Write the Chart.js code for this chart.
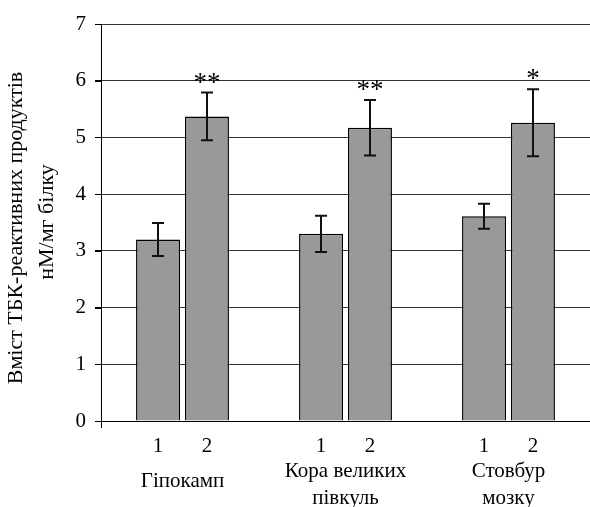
<!DOCTYPE html>
<html>
<head>
<meta charset="utf-8">
<script src="https://cdn.jsdelivr.net/npm/chart.js@4.4.1/dist/chart.umd.min.js"></script>
<style>
  html, body { margin: 0; padding: 0; background: #fff; overflow: hidden; }
</style>
</head>
<body>
<canvas id="tbkChart" width="590" height="507"></canvas>
<script>
// brain regions (group labels, one entry per line)
const regions = [['Гіпокамп'], ['Кора великих', 'півкуль'], ['Стовбур', 'мозку']];
const seriesLabels = ['1', '2'];
// mean values, nM/mg protein
const group1 = [3.20, 3.30, 3.61];
const group2 = [5.37, 5.17, 5.26];
// error bar half-lengths
const group1Err = [0.29, 0.32, 0.22];
const group2Err = [0.42, 0.49, 0.59];
// significance marks above group 2
const group2Marks = ['**', '**', '*'];
const yTitle = ['Вміст ТБК-реактивних продуктів', 'нМ/мг білку'];

const serif = '"Liberation Serif", "Times New Roman", serif';

const extras = {
    id: 'extras',
    afterDatasetsDraw(chart) {
        const ctx = chart.ctx;
        const yScale = chart.scales.y;
        const xScale = chart.scales.x;
        const area = chart.chartArea;
        const errs = [group1Err, group2Err];

        ctx.save();
        // error bars
        ctx.strokeStyle = '#111';
        ctx.lineWidth = 2;
        chart.data.datasets.forEach(function (ds, di) {
            chart.getDatasetMeta(di).data.forEach(function (bar, i) {
                const top = yScale.getPixelForValue(ds.data[i] + errs[di][i]);
                const bot = yScale.getPixelForValue(ds.data[i] - errs[di][i]);
                const x = Math.round(bar.x);
                ctx.beginPath();
                ctx.moveTo(x, top); ctx.lineTo(x, bot);
                ctx.moveTo(x - 6, top); ctx.lineTo(x + 6, top);
                ctx.moveTo(x - 6, bot); ctx.lineTo(x + 6, bot);
                ctx.stroke();
            });
        });

        // stars
        ctx.fillStyle = '#000';
        ctx.textAlign = 'center';
        ctx.textBaseline = 'alphabetic';
        ctx.font = '27px ' + serif;
        chart.getDatasetMeta(1).data.forEach(function (bar, i) {
            const top = yScale.getPixelForValue(group2[i] + group2Err[i]);
            ctx.fillText(group2Marks[i], bar.x, top - 2);
        });

        // tick stubs left of the y axis and axis stub below zero
        ctx.strokeStyle = '#000';
        ctx.lineWidth = 1;
        ctx.beginPath();
        yScale.ticks.forEach(function (t) {
            const py = Math.round(yScale.getPixelForValue(t.value)) + 0.5;
            ctx.moveTo(area.left - 6, py);
            ctx.lineTo(area.left, py);
        });
        ctx.moveTo(area.left + 0.5, area.bottom);
        ctx.lineTo(area.left + 0.5, area.bottom + 7);
        ctx.stroke();

        // series numbers under bars
        ctx.font = '21px ' + serif;
        chart.data.datasets.forEach(function (ds, di) {
            chart.getDatasetMeta(di).data.forEach(function (bar) {
                ctx.fillText(seriesLabels[di], bar.x, 452);
            });
        });

        // region names
        regions.forEach(function (lines, i) {
            const cx = xScale.getPixelForValue(i);
            if (lines.length === 1) {
                ctx.fillText(lines[0], cx, 487);
            } else {
                ctx.fillText(lines[0], cx, 477);
                ctx.fillText(lines[1], cx, 504);
            }
        });

        // y title
        ctx.font = '22px ' + serif;
        ctx.textBaseline = 'middle';
        ctx.translate(0, 226);
        ctx.rotate(-Math.PI / 2);
        ctx.fillText(yTitle[0], -2, 16);
        ctx.fillText(yTitle[1], 4, 47);
        ctx.restore();
    }
};

const ctx = document.getElementById('tbkChart').getContext('2d');
new Chart(ctx, {
    type: 'bar',
    data: {
        labels: regions,
        datasets: [{
            label: seriesLabels[0],
            data: group1,
            backgroundColor: '#999999',
            borderColor: '#000',
            borderWidth: 1.5,
            categoryPercentage: 0.6,
            barPercentage: 0.9
        }, {
            label: seriesLabels[1],
            data: group2,
            backgroundColor: '#999999',
            borderColor: '#000',
            borderWidth: 1.5,
            categoryPercentage: 0.6,
            barPercentage: 0.9
        }]
    },
    options: {
        responsive: false,
        animation: false,
        layout: { padding: { top: 24, left: 0, right: 0, bottom: 0 } },
        plugins: {
            legend: { display: false },
            tooltip: { enabled: false }
        },
        scales: {
            x: {
                ticks: { display: false },
                grid: { display: false },
                border: { color: '#000', width: 1 },
                afterFit: function (s) { s.height = 86; }
            },
            y: {
                min: 0,
                max: 7,
                ticks: {
                    stepSize: 1,
                    color: '#000',
                    padding: 9,
                    font: { family: serif, size: 21 }
                },
                grid: { color: '#333', tickColor: '#000', tickLength: 6 },
                border: { color: '#000', width: 1 },
                afterFit: function (s) { s.width = 101; }
            }
        }
    },
    plugins: [extras]
});
</script>
</body>
</html>
